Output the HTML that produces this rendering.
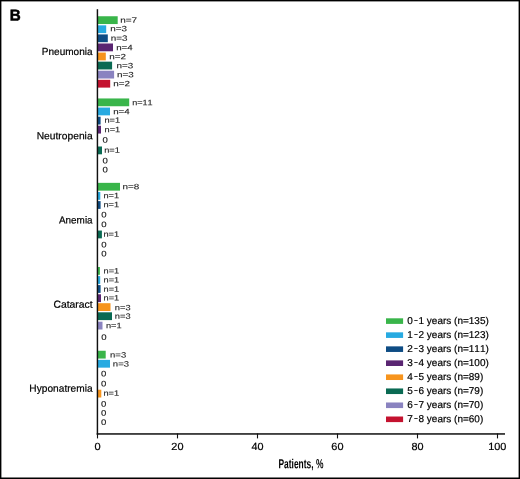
<!DOCTYPE html>
<html lang="en"><head><meta charset="utf-8"><title>Figure B</title>
<style>html,body{margin:0;padding:0;background:#fff}svg{display:block}text{font-family:"Liberation Sans",sans-serif;fill:#000;stroke:#000;stroke-width:0.2px;font-kerning:none;text-rendering:geometricPrecision}</style>
</head><body>
<svg width="520" height="479" viewBox="0 0 520 479">
<rect x="0" y="0" width="520" height="479" fill="#fff"/>
<rect x="97.00" y="16.25" width="20.70" height="7.80" fill="#39B54A"/>
<rect x="97.00" y="25.33" width="9.20" height="7.80" fill="#27AAE1"/>
<rect x="97.00" y="34.41" width="10.80" height="7.80" fill="#0E4C84"/>
<rect x="97.00" y="43.49" width="16.00" height="7.80" fill="#5A2572"/>
<rect x="97.00" y="52.57" width="8.80" height="7.80" fill="#F7941D"/>
<rect x="97.00" y="61.65" width="15.10" height="7.80" fill="#0A6A53"/>
<rect x="97.00" y="70.73" width="17.10" height="7.80" fill="#8A83C0"/>
<rect x="97.00" y="79.81" width="13.20" height="7.80" fill="#C4122F"/>
<rect x="97.00" y="98.45" width="32.20" height="7.80" fill="#39B54A"/>
<rect x="97.00" y="107.55" width="13.00" height="7.80" fill="#27AAE1"/>
<rect x="97.00" y="116.70" width="3.60" height="7.80" fill="#0E4C84"/>
<rect x="97.00" y="125.75" width="4.00" height="7.80" fill="#5A2572"/>
<rect x="97.00" y="146.50" width="5.00" height="7.80" fill="#0A6A53"/>
<rect x="97.00" y="182.85" width="23.00" height="7.80" fill="#39B54A"/>
<rect x="97.00" y="192.00" width="3.30" height="7.80" fill="#27AAE1"/>
<rect x="97.00" y="201.10" width="3.60" height="7.80" fill="#0E4C84"/>
<rect x="97.00" y="230.55" width="4.90" height="7.80" fill="#0A6A53"/>
<rect x="97.00" y="267.00" width="2.90" height="7.80" fill="#39B54A"/>
<rect x="97.00" y="276.10" width="3.20" height="7.80" fill="#27AAE1"/>
<rect x="97.00" y="285.10" width="3.60" height="7.80" fill="#0E4C84"/>
<rect x="97.00" y="294.30" width="4.00" height="7.80" fill="#5A2572"/>
<rect x="97.00" y="303.20" width="13.50" height="7.80" fill="#F7941D"/>
<rect x="97.00" y="312.30" width="15.00" height="7.80" fill="#0A6A53"/>
<rect x="97.00" y="321.70" width="5.50" height="7.80" fill="#8A83C0"/>
<rect x="97.00" y="350.75" width="8.70" height="7.80" fill="#39B54A"/>
<rect x="97.00" y="359.85" width="13.00" height="7.80" fill="#27AAE1"/>
<rect x="97.00" y="389.70" width="4.30" height="7.80" fill="#F7941D"/>
<rect x="96.7" y="9.2" width="1.45" height="425.5" fill="#111"/>
<rect x="96.7" y="433.2" width="408.3" height="1.5" fill="#111"/>
<rect x="96.95" y="433.5" width="1.1" height="4.9" fill="#111"/>
<text transform="matrix(1.0639 0.0005 0 1 94.42 450.00)" font-size="10.4">0</text>
<rect x="176.95" y="433.5" width="1.1" height="4.9" fill="#111"/>
<text transform="matrix(1.0515 0.0005 0 1 171.35 450.00)" font-size="10.4">20</text>
<rect x="256.95" y="433.5" width="1.1" height="4.9" fill="#111"/>
<text transform="matrix(1.0418 0.0005 0 1 251.56 450.00)" font-size="10.4">40</text>
<rect x="336.95" y="433.5" width="1.1" height="4.9" fill="#111"/>
<text transform="matrix(1.0515 0.0005 0 1 331.35 450.00)" font-size="10.4">60</text>
<rect x="416.95" y="433.5" width="1.1" height="4.9" fill="#111"/>
<text transform="matrix(1.0444 0.0005 0 1 411.43 450.00)" font-size="10.4">80</text>
<rect x="496.95" y="433.5" width="1.1" height="4.9" fill="#111"/>
<text transform="matrix(1.0517 0.0005 0 1 488.17 450.00)" font-size="10.4">100</text>
<rect x="0" y="0" width="520" height="1.4" fill="#000"/>
<rect x="0" y="0" width="1.4" height="479" fill="#000"/>
<rect x="518.6" y="0" width="1.4" height="479" fill="#000"/>
<rect x="0" y="477.5" width="520" height="1.5" fill="#000"/>
<text transform="matrix(0.9634 0.0005 0 1 9.65 20.50)" font-size="15.8" font-weight="bold" style="stroke-width:0.5px;">B</text>
<text transform="matrix(0.9799 0.0005 0 1 41.78 55.00)" font-size="10.25">Pneumonia</text>
<text transform="matrix(1.0016 0.0005 0 1 36.66 139.20)" font-size="10.25">Neutropenia</text>
<text transform="matrix(0.9671 0.0005 0 1 58.98 223.50)" font-size="10.25">Anemia</text>
<text transform="matrix(1.0143 0.0005 0 1 53.38 307.85)" font-size="10.25">Cataract</text>
<text transform="matrix(0.9909 0.0005 0 1 29.37 391.75)" font-size="10.25">Hyponatremia</text>
<text transform="matrix(1.2738 0.0005 0 1 120.14 22.80)" font-size="7.8" style="stroke-width:0.12px;fill:#1c1c1c;stroke:#1c1c1c;">n=7</text>
<text transform="matrix(1.2682 0.0005 0 1 110.35 31.35)" font-size="7.8" style="stroke-width:0.12px;fill:#1c1c1c;stroke:#1c1c1c;">n=3</text>
<text transform="matrix(1.2682 0.0005 0 1 110.65 40.70)" font-size="7.8" style="stroke-width:0.12px;fill:#1c1c1c;stroke:#1c1c1c;">n=3</text>
<text transform="matrix(1.2491 0.0005 0 1 116.16 50.15)" font-size="7.8" style="stroke-width:0.12px;fill:#1c1c1c;stroke:#1c1c1c;">n=4</text>
<text transform="matrix(1.2657 0.0005 0 1 109.20 59.15)" font-size="7.8" style="stroke-width:0.12px;fill:#1c1c1c;stroke:#1c1c1c;">n=2</text>
<text transform="matrix(1.2682 0.0005 0 1 116.45 68.20)" font-size="7.8" style="stroke-width:0.12px;fill:#1c1c1c;stroke:#1c1c1c;">n=3</text>
<text transform="matrix(1.2682 0.0005 0 1 117.05 77.30)" font-size="7.8" style="stroke-width:0.12px;fill:#1c1c1c;stroke:#1c1c1c;">n=3</text>
<text transform="matrix(1.2657 0.0005 0 1 113.25 86.15)" font-size="7.8" style="stroke-width:0.12px;fill:#1c1c1c;stroke:#1c1c1c;">n=2</text>
<text transform="matrix(1.1632 0.0005 0 1 132.20 105.15)" font-size="7.8" style="stroke-width:0.12px;fill:#1c1c1c;stroke:#1c1c1c;">n=11</text>
<text transform="matrix(1.2491 0.0005 0 1 113.16 114.15)" font-size="7.8" style="stroke-width:0.12px;fill:#1c1c1c;stroke:#1c1c1c;">n=4</text>
<text transform="matrix(1.1831 0.0005 0 1 104.49 122.85)" font-size="7.8" style="stroke-width:0.12px;fill:#1c1c1c;stroke:#1c1c1c;">n=1</text>
<text transform="matrix(1.1831 0.0005 0 1 104.59 132.15)" font-size="7.8" style="stroke-width:0.12px;fill:#1c1c1c;stroke:#1c1c1c;">n=1</text>
<text transform="matrix(1.2312 0.0005 0 1 102.53 142.40)" font-size="7.8" style="stroke-width:0.12px;fill:#1c1c1c;stroke:#1c1c1c;">0</text>
<text transform="matrix(1.1831 0.0005 0 1 104.19 152.80)" font-size="7.8" style="stroke-width:0.12px;fill:#1c1c1c;stroke:#1c1c1c;">n=1</text>
<text transform="matrix(1.2312 0.0005 0 1 102.53 163.20)" font-size="7.8" style="stroke-width:0.12px;fill:#1c1c1c;stroke:#1c1c1c;">0</text>
<text transform="matrix(1.2312 0.0005 0 1 102.53 172.30)" font-size="7.8" style="stroke-width:0.12px;fill:#1c1c1c;stroke:#1c1c1c;">0</text>
<text transform="matrix(1.2682 0.0005 0 1 122.45 189.30)" font-size="7.8" style="stroke-width:0.12px;fill:#1c1c1c;stroke:#1c1c1c;">n=8</text>
<text transform="matrix(1.1831 0.0005 0 1 103.49 198.15)" font-size="7.8" style="stroke-width:0.12px;fill:#1c1c1c;stroke:#1c1c1c;">n=1</text>
<text transform="matrix(1.1831 0.0005 0 1 103.49 207.15)" font-size="7.8" style="stroke-width:0.12px;fill:#1c1c1c;stroke:#1c1c1c;">n=1</text>
<text transform="matrix(1.2312 0.0005 0 1 101.13 217.30)" font-size="7.8" style="stroke-width:0.12px;fill:#1c1c1c;stroke:#1c1c1c;">0</text>
<text transform="matrix(1.2312 0.0005 0 1 101.13 227.10)" font-size="7.8" style="stroke-width:0.12px;fill:#1c1c1c;stroke:#1c1c1c;">0</text>
<text transform="matrix(1.1831 0.0005 0 1 103.49 236.80)" font-size="7.8" style="stroke-width:0.12px;fill:#1c1c1c;stroke:#1c1c1c;">n=1</text>
<text transform="matrix(1.2312 0.0005 0 1 101.13 247.20)" font-size="7.8" style="stroke-width:0.12px;fill:#1c1c1c;stroke:#1c1c1c;">0</text>
<text transform="matrix(1.2312 0.0005 0 1 101.13 256.30)" font-size="7.8" style="stroke-width:0.12px;fill:#1c1c1c;stroke:#1c1c1c;">0</text>
<text transform="matrix(1.1831 0.0005 0 1 103.59 273.40)" font-size="7.8" style="stroke-width:0.12px;fill:#1c1c1c;stroke:#1c1c1c;">n=1</text>
<text transform="matrix(1.1831 0.0005 0 1 103.59 282.40)" font-size="7.8" style="stroke-width:0.12px;fill:#1c1c1c;stroke:#1c1c1c;">n=1</text>
<text transform="matrix(1.1831 0.0005 0 1 103.59 291.70)" font-size="7.8" style="stroke-width:0.12px;fill:#1c1c1c;stroke:#1c1c1c;">n=1</text>
<text transform="matrix(1.1831 0.0005 0 1 103.59 300.40)" font-size="7.8" style="stroke-width:0.12px;fill:#1c1c1c;stroke:#1c1c1c;">n=1</text>
<text transform="matrix(1.1955 0.0005 0 1 114.78 310.15)" font-size="7.8" style="stroke-width:0.12px;fill:#1c1c1c;stroke:#1c1c1c;">n=3</text>
<text transform="matrix(1.1955 0.0005 0 1 114.78 318.80)" font-size="7.8" style="stroke-width:0.12px;fill:#1c1c1c;stroke:#1c1c1c;">n=3</text>
<text transform="matrix(1.1831 0.0005 0 1 105.99 328.15)" font-size="7.8" style="stroke-width:0.12px;fill:#1c1c1c;stroke:#1c1c1c;">n=1</text>
<text transform="matrix(1.2312 0.0005 0 1 101.13 339.70)" font-size="7.8" style="stroke-width:0.12px;fill:#1c1c1c;stroke:#1c1c1c;">0</text>
<text transform="matrix(1.2197 0.0005 0 1 110.07 357.40)" font-size="7.8" style="stroke-width:0.12px;fill:#1c1c1c;stroke:#1c1c1c;">n=3</text>
<text transform="matrix(1.2197 0.0005 0 1 112.87 366.40)" font-size="7.8" style="stroke-width:0.12px;fill:#1c1c1c;stroke:#1c1c1c;">n=3</text>
<text transform="matrix(1.2312 0.0005 0 1 101.03 376.30)" font-size="7.8" style="stroke-width:0.12px;fill:#1c1c1c;stroke:#1c1c1c;">0</text>
<text transform="matrix(1.2312 0.0005 0 1 101.03 386.30)" font-size="7.8" style="stroke-width:0.12px;fill:#1c1c1c;stroke:#1c1c1c;">0</text>
<text transform="matrix(1.1831 0.0005 0 1 103.49 395.80)" font-size="7.8" style="stroke-width:0.12px;fill:#1c1c1c;stroke:#1c1c1c;">n=1</text>
<text transform="matrix(1.2312 0.0005 0 1 101.03 406.50)" font-size="7.8" style="stroke-width:0.12px;fill:#1c1c1c;stroke:#1c1c1c;">0</text>
<text transform="matrix(1.2312 0.0005 0 1 101.03 415.60)" font-size="7.8" style="stroke-width:0.12px;fill:#1c1c1c;stroke:#1c1c1c;">0</text>
<text transform="matrix(1.2312 0.0005 0 1 101.03 424.80)" font-size="7.8" style="stroke-width:0.12px;fill:#1c1c1c;stroke:#1c1c1c;">0</text>
<rect x="386" y="318.30" width="17.1" height="5.6" fill="#39B54A"/>
<text transform="matrix(1.0000 0.0005 0 1 407.35 323.90)" font-size="10.0">0<tspan font-size="5.3" dx="1.55" dy="-2.1" style="stroke-width:0.42px">–</tspan><tspan dx="1.06" dy="2.1">1 years (n=135)</tspan></text>
<rect x="386" y="332.33" width="17.1" height="5.6" fill="#27AAE1"/>
<text transform="matrix(1.0000 0.0005 0 1 407.35 337.93)" font-size="10.0">1<tspan font-size="5.3" dx="1.55" dy="-2.1" style="stroke-width:0.42px">–</tspan><tspan dx="1.06" dy="2.1">2 years (n=123)</tspan></text>
<rect x="386" y="346.36" width="17.1" height="5.6" fill="#0E4C84"/>
<text transform="matrix(1.0000 0.0005 0 1 407.35 351.96)" font-size="10.0">2<tspan font-size="5.3" dx="1.55" dy="-2.1" style="stroke-width:0.42px">–</tspan><tspan dx="1.06" dy="2.1">3 years (n=111)</tspan></text>
<rect x="386" y="360.39" width="17.1" height="5.6" fill="#5A2572"/>
<text transform="matrix(1.0000 0.0005 0 1 407.35 365.99)" font-size="10.0">3<tspan font-size="5.3" dx="1.55" dy="-2.1" style="stroke-width:0.42px">–</tspan><tspan dx="1.06" dy="2.1">4 years (n=100)</tspan></text>
<rect x="386" y="374.42" width="17.1" height="5.6" fill="#F7941D"/>
<text transform="matrix(1.0000 0.0005 0 1 407.35 380.02)" font-size="10.0">4<tspan font-size="5.3" dx="1.55" dy="-2.1" style="stroke-width:0.42px">–</tspan><tspan dx="1.06" dy="2.1">5 years (n=89)</tspan></text>
<rect x="386" y="388.45" width="17.1" height="5.6" fill="#0A6A53"/>
<text transform="matrix(1.0000 0.0005 0 1 407.35 394.05)" font-size="10.0">5<tspan font-size="5.3" dx="1.55" dy="-2.1" style="stroke-width:0.42px">–</tspan><tspan dx="1.06" dy="2.1">6 years (n=79)</tspan></text>
<rect x="386" y="402.48" width="17.1" height="5.6" fill="#8A83C0"/>
<text transform="matrix(1.0000 0.0005 0 1 407.35 408.08)" font-size="10.0">6<tspan font-size="5.3" dx="1.55" dy="-2.1" style="stroke-width:0.42px">–</tspan><tspan dx="1.06" dy="2.1">7 years (n=70)</tspan></text>
<rect x="386" y="416.51" width="17.1" height="5.6" fill="#C4122F"/>
<text transform="matrix(1.0000 0.0005 0 1 407.35 422.11)" font-size="10.0">7<tspan font-size="5.3" dx="1.55" dy="-2.1" style="stroke-width:0.42px">–</tspan><tspan dx="1.06" dy="2.1">8 years (n=60)</tspan></text>
<text transform="matrix(0.6387 0.0005 0 1 278.44 468.20)" font-size="13.2" font-weight="bold" style="stroke-width:0px;">Patients, %</text>
</svg>
</body></html>
